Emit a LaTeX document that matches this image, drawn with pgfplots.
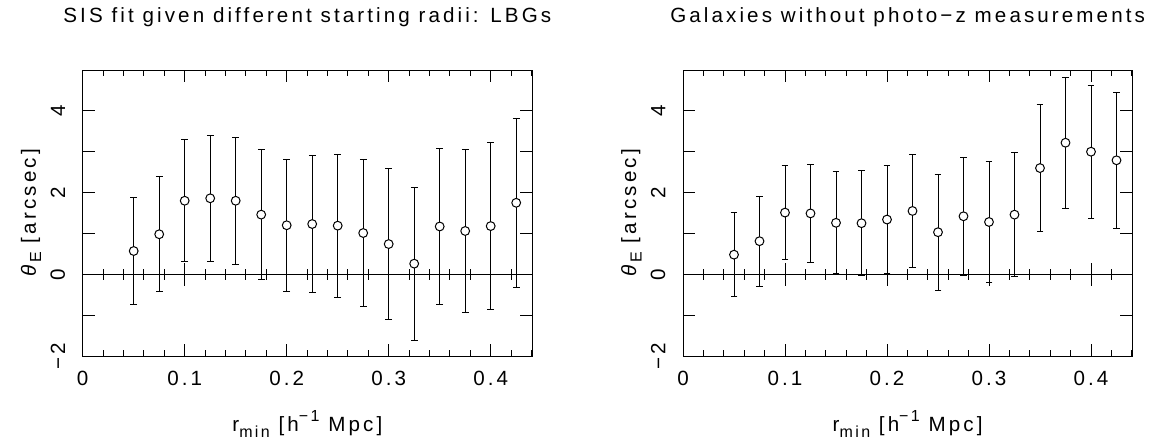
\documentclass[border=0pt]{standalone}
\usepackage{pgfplots}
\pgfplotsset{compat=1.18}
\usepackage{pgfplotstable}
\usepackage{fontspec}
\setmainfont{Liberation Sans}[LetterSpace=15]

\pgfplotstableread{
x y e
0.050 0.57 1.30
0.075 0.98 1.41
0.100 1.80 1.49
0.125 1.86 1.54
0.150 1.80 1.55
0.175 1.46 1.59
0.200 1.20 1.62
0.225 1.23 1.68
0.250 1.19 1.75
0.275 1.01 1.80
0.300 0.74 1.85
0.325 0.26 1.87
0.350 1.17 1.91
0.375 1.06 1.99
0.400 1.18 2.05
0.425 1.75 2.07
}\lbg

\pgfplotstableread{
x y e
0.050 0.48 1.03
0.075 0.81 1.10
0.100 1.51 1.15
0.125 1.49 1.20
0.150 1.26 1.25
0.175 1.25 1.29
0.200 1.34 1.33
0.225 1.55 1.38
0.250 1.03 1.42
0.275 1.42 1.44
0.300 1.28 1.49
0.325 1.46 1.52
0.350 2.60 1.56
0.375 3.22 1.60
0.400 3.00 1.63
0.425 2.79 1.67
}\nophotz

\newcommand{\lo}[1]{\raisebox{-0.5ex}{\fontsize{8bp}{9bp}\selectfont #1}}
\newcommand{\hi}[1]{\raisebox{0.95ex}{\fontsize{8bp}{9bp}\selectfont #1}}

\pgfplotsset{
  mystyle/.style={
    scale only axis, width=224.65bp, height=143bp,
    xmin=0, xmax=0.4405, ymin=-2, ymax=5,
    axis line style={line width=0.5bp},
    every tick/.style={black, line width=0.5bp},
    tick align=inside,
    major tick length=6bp, minor tick length=3.2bp,
    xtick={0,0.1,0.2,0.3,0.4}, xticklabels={0,0.1,0.2,0.3,0.4},
    minor xtick={0.02,0.04,0.06,0.08,0.12,0.14,0.16,0.18,0.22,0.24,0.26,0.28,0.32,0.34,0.36,0.38,0.42,0.44},
    ytick={-2,-1,0,1,2,3,4}, yticklabels={−2,,0,,2,,4},
    xticklabel style={anchor=base, inner sep=0pt},
    xticklabel shift=14.5bp,
    yticklabel style={rotate=90, anchor=south, inner sep=0pt},
    yticklabel shift=8.6bp,
    xlabel style={at={(axis description cs:0.5,-0.2657)}, anchor=base, inner sep=0pt},
    ylabel style={at={(axis description cs:-0.115,0.5)}, anchor=center, inner sep=0pt},
    xlabel={r\lo{min} [h\hi{−1} Mpc]},
    ylabel={\textit{θ}\lo{E} [arcsec]},
  },
  errstyle/.style={black, line width=0.5bp, only marks, mark=*, mark size=2.2bp,
    mark options={fill=white, draw=black, line width=0.5bp},
    error bars/.cd, y dir=both, y explicit,
    error bar style={line width=0.5bp, black},
    error mark options={rotate=90, mark size=1.7bp, line width=0.5bp, black}},
}

\newcommand{\zeroline}{%
  \draw[line width=0.5bp] (axis cs:0,0) -- (axis cs:0.4405,0);
  \pgfplotsinvokeforeach{0.02,0.04,0.06,0.08,0.12,0.14,0.16,0.18,0.22,0.24,0.26,0.28,0.32,0.34,0.36,0.38,0.42}{%
    \draw[line width=0.5bp] (axis cs:##1,-0.137) -- (axis cs:##1,0.137);}
  \pgfplotsinvokeforeach{0.1,0.2,0.3,0.4}{%
    \draw[line width=0.5bp] (axis cs:##1,-0.279) -- (axis cs:##1,0.279);}
}

\begin{document}
\begin{tikzpicture}[font=\fontsize{10.3bp}{12bp}\selectfont]
\useasboundingbox (0,0) rectangle (574.5bp,220.5bp);
\begin{axis}[mystyle, name=L, at={(41.35bp,42.5bp)}, anchor=south west]
  \zeroline
  \addplot[errstyle] table[x=x, y=y, y error=e]{\lbg};
\end{axis}
\begin{axis}[mystyle, name=R, at={(341.5bp,42.5bp)}, anchor=south west]
  \zeroline
  \addplot[errstyle] table[x=x, y=y, y error=e]{\nophotz};
\end{axis}
\node[anchor=base, inner sep=0pt] at ([yshift=24bp]L.north) {SIS fit given different starting radii: LBGs};
\node[anchor=base, inner sep=0pt] at ([yshift=24bp]R.north) {Galaxies without photo−z measurements};
\end{tikzpicture}
\end{document}
